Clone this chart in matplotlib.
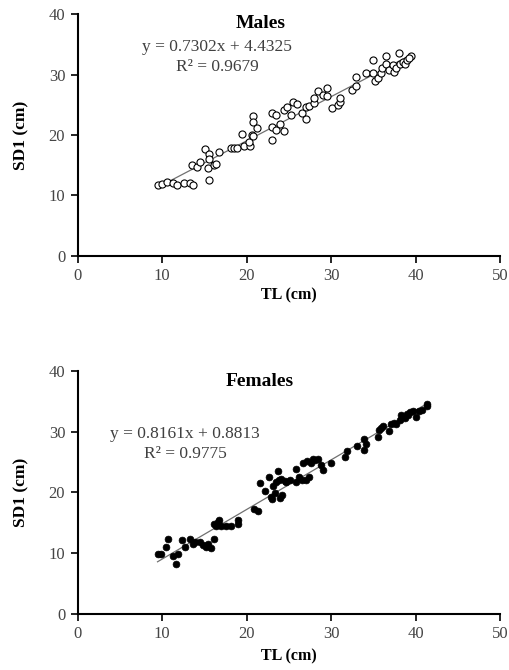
import matplotlib
matplotlib.use("Agg")
import matplotlib.pyplot as plt
import numpy as np

plt.rcParams['font.family'] = ['Liberation Serif', 'DejaVu Serif']

male_tl = [9.45, 10.0, 10.6, 11.3, 11.8, 12.6, 13.3, 13.7, 13.5, 14.1, 14.5, 15.1, 15.5, 15.5, 15.4, 15.5,
           16.1, 16.4, 16.7, 18.2, 18.5, 18.8, 19.4, 19.7, 20.4, 20.3, 20.6, 20.8, 20.7, 20.8, 21.2,
           23.0, 23.0, 23.0, 23.5, 23.5, 23.9, 24.4, 24.4, 24.8, 25.2, 25.5, 26.0, 26.5, 27.0, 27.0,
           27.4, 28.0, 28.0, 28.5, 29.0, 29.5, 29.5, 30.1, 30.8, 31.1, 31.1, 32.5, 33.0, 33.0, 34.1,
           35.0, 35.0, 35.2, 35.6, 35.9, 36.0, 36.5, 36.5, 36.9, 37.3, 37.5, 37.7, 38.0, 38.1, 38.5,
           38.8, 39.0, 39.5, 39.2]
male_sd1 = [11.7, 11.9, 12.3, 12.1, 11.7, 12.0, 12.1, 11.8, 15.0, 14.7, 15.5, 17.7, 16.9, 16.0, 14.6, 12.6,
            15.0, 15.2, 17.2, 17.9, 17.9, 17.8, 20.1, 18.1, 18.1, 18.9, 20.0, 19.8, 23.1, 22.2, 21.1,
            19.1, 21.3, 23.7, 23.3, 20.9, 21.9, 20.7, 24.1, 24.7, 23.3, 25.5, 25.2, 23.7, 24.7, 22.6,
            24.8, 25.3, 26.2, 27.3, 26.6, 26.4, 27.7, 24.5, 25.0, 25.5, 26.1, 27.5, 28.1, 29.6, 30.3,
            30.3, 32.4, 29.0, 29.5, 30.2, 31.0, 31.8, 33.1, 30.7, 31.6, 30.5, 31.0, 33.5, 31.7, 32.1,
            31.7, 32.4, 33.1, 32.7]

female_tl = [9.45, 9.9, 10.4, 10.7, 11.3, 11.6, 11.9, 12.4, 12.7, 13.3, 13.6, 13.9, 14.5, 15.2, 15.4, 15.8,
             16.1, 16.1, 16.4, 16.7, 17.0, 17.5, 18.1, 19.0, 19.0, 20.9, 21.3, 21.6, 22.2, 22.7, 23.0,
             23.1, 23.4, 23.7, 23.5, 23.9, 24.2, 24.1, 24.7, 25.1, 25.9, 25.9, 26.5, 26.7, 27.0, 27.4,
             27.6, 27.9, 28.4, 28.8, 29.1, 30.0, 31.7, 31.9, 33.1, 33.9, 33.9, 34.1, 35.5, 35.7, 36.1,
             36.9, 37.1, 37.7, 38.1, 38.3, 38.7, 39.1, 39.4, 39.7, 40.0, 40.4, 41.4, 41.4,
             22.9, 23.8, 24.5, 26.2, 27.1, 28.1, 35.9, 37.4, 39.0, 40.8, 16.6, 14.8]
female_sd1 = [9.9, 9.9, 11.1, 12.4, 9.5, 8.2, 9.8, 12.2, 11.1, 12.3, 11.5, 11.9, 11.8, 11.0, 11.5, 10.8,
              12.3, 14.8, 14.5, 15.5, 14.5, 14.5, 14.5, 15.5, 14.8, 17.3, 16.9, 21.5, 20.2, 22.6, 18.9,
              21.0, 19.9, 23.6, 21.8, 19.1, 19.6, 22.2, 21.8, 22.1, 21.8, 23.8, 22.1, 24.8, 22.1, 22.6,
              24.9, 25.5, 25.5, 24.6, 23.7, 24.8, 25.9, 26.8, 27.6, 27.0, 28.8, 28.0, 29.2, 30.3, 31.0,
              30.1, 31.2, 31.2, 32.0, 32.8, 32.3, 32.8, 33.2, 33.4, 32.4, 33.4, 34.2, 34.6,
              19.2, 22.0, 21.9, 22.5, 25.2, 25.3, 30.6, 31.5, 33.0, 33.6, 15.2, 11.3]

x_ticks = [0, 10, 20, 30, 40, 50]
y_ticks = [0, 10, 20, 30, 40]

panels = [
    dict(name="Males", tl=male_tl, sd=male_sd1, slope=0.7302, icpt=4.4325, r2="0.9679",
         filled=False, rect=[0.1524, 0.618, 0.828, 0.361], xlpad=2,
         title_xy=(21.6, 38.4), eq_xy=(16.5, 34.6), r2_xy=(16.5, 31.2)),
    dict(name="Females", tl=female_tl, sd=female_sd1, slope=0.8161, icpt=0.8813, r2="0.9775",
         filled=True, rect=[0.1524, 0.0836, 0.828, 0.3627], xlpad=4,
         title_xy=(21.6, 38.3), eq_xy=(12.7, 29.7), r2_xy=(12.7, 26.4)),
]

fig = plt.figure(figsize=(5.1, 6.7), dpi=100)
tick_col = '#454545'
for p in panels:
    ax = fig.add_axes(p['rect'])
    x = np.array(p['tl']); y = np.array(p['sd'])
    xl = np.array([x.min(), x.max()])
    ax.plot(xl, p['slope'] * xl + p['icpt'], color='#707070', lw=0.9, zorder=1)
    if p['filled']:
        ax.scatter(x, y, s=24, c='black', edgecolors='black', linewidths=0.5, zorder=2)
    else:
        ax.scatter(x, y, s=26, facecolors='white', edgecolors='black', linewidths=0.8, zorder=2)
    ax.set_xlim(0, 50); ax.set_ylim(0, 40)
    ax.set_xticks(x_ticks); ax.set_yticks(y_ticks)
    for s in ['top', 'right']:
        ax.spines[s].set_visible(False)
    for s in ['left', 'bottom']:
        ax.spines[s].set_linewidth(1.5)
    ax.tick_params(direction='out', length=5, width=1.2, labelsize=12, labelcolor=tick_col, pad=4)
    ax.set_xlabel('TL (cm)', fontsize=11.5, fontweight='bold', labelpad=p['xlpad'])
    ax.set_ylabel('SD1 (cm)', fontsize=12.5, fontweight='bold', labelpad=14)
    ax.text(*p['title_xy'], p['name'], fontsize=14, fontweight='bold', ha='center', va='center')
    ax.text(*p['eq_xy'], f"y = {p['slope']:.4f}x + {p['icpt']:.4f}", fontsize=12.5, color='#404040',
            ha='center', va='center')
    ax.text(*p['r2_xy'], f"R² = {p['r2']}", fontsize=12.5, color='#404040', ha='center', va='center')

fig.savefig('out.png', dpi=100)
